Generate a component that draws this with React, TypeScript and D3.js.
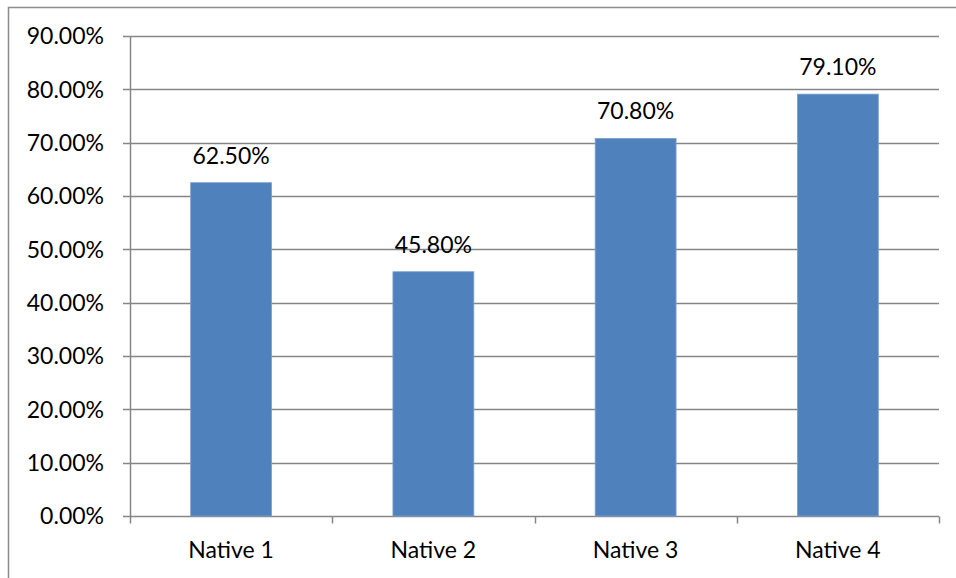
import React, { useEffect, useRef } from 'react';
import * as d3 from 'd3';

const categories = ['Native 1', 'Native 2', 'Native 3', 'Native 4'];
const values = [0.625, 0.458, 0.708, 0.791];
const yTicks = [0, 0.1, 0.2, 0.3, 0.4, 0.5, 0.6, 0.7, 0.8, 0.9];

const App: React.FC = () => {
  const svgRef = useRef<SVGSVGElement>(null);

  useEffect(() => {
    if (!svgRef.current) return;
    const svg = d3.select(svgRef.current);
    svg.selectAll('*').remove();

    const width = 956;
    const height = 578;
    const margin = { top: 36, right: 17, bottom: 62, left: 130 };
    const font = 'Lato, "Open Sans", sans-serif';
    const fontSize = 23;
    const gray = '#868686';

    svg.attr('width', width).attr('height', height);

    // chart frame (only left/top visible)
    svg.append('rect')
      .attr('x', 8.5).attr('y', 7.5)
      .attr('width', width + 10).attr('height', height + 10)
      .attr('fill', '#fff')
      .attr('stroke', '#8c8c8c')
      .attr('stroke-width', 1.5);

    const x = d3.scaleBand<string>()
      .domain(categories)
      .range([margin.left, width - margin.right])
      .padding(0);

    const y = d3.scaleLinear()
      .domain([0, 0.9])
      .range([height - margin.bottom, margin.top]);

    // gridlines
    svg.append('g')
      .selectAll('line')
      .data(yTicks)
      .join('line')
      .attr('x1', margin.left - 7)
      .attr('x2', width - margin.right)
      .attr('y1', d => Math.round(y(d)) + 0.5)
      .attr('y2', d => Math.round(y(d)) + 0.5)
      .attr('stroke', gray)
      .attr('stroke-width', 1.5);

    // y labels
    svg.append('g')
      .selectAll('text')
      .data(yTicks)
      .join('text')
      .attr('x', 104)
      .attr('y', d => y(d))
      .attr('dy', '0.36em')
      .attr('text-anchor', 'end')
      .attr('font-family', font)
      .attr('font-size', fontSize)
      .attr('fill', '#000')
      .text(d => d3.format('.2%')(d));

    // bars
    const barW = x.bandwidth() * 0.4;
    svg.append('g')
      .selectAll('rect')
      .data(values)
      .join('rect')
      .attr('x', (d, i) => x(categories[i])! + (x.bandwidth() - barW) / 2)
      .attr('y', d => y(d))
      .attr('width', barW)
      .attr('height', d => y(0) - y(d))
      .attr('fill', '#4f81bd')
      .attr('stroke', '#7da0cf')
      .attr('stroke-width', 0.8);

    // bar value labels
    svg.append('g')
      .selectAll('text')
      .data(values)
      .join('text')
      .attr('x', (d, i) => x(categories[i])! + x.bandwidth() / 2)
      .attr('y', d => y(d) - 19)
      .attr('text-anchor', 'middle')
      .attr('font-family', font)
      .attr('font-size', fontSize)
      .attr('fill', '#000')
      .text(d => d3.format('.2%')(d));

    // axes lines
    const y0 = Math.round(y(0)) + 0.5;
    svg.append('line')
      .attr('x1', margin.left + 0.5).attr('x2', margin.left + 0.5)
      .attr('y1', margin.top).attr('y2', y0)
      .attr('stroke', gray).attr('stroke-width', 1.5);

    const tickXs = [...categories.map(c => x(c)!), width - margin.right];
    svg.append('g')
      .selectAll('line')
      .data(tickXs)
      .join('line')
      .attr('x1', d => Math.round(d) + 0.5)
      .attr('x2', d => Math.round(d) + 0.5)
      .attr('y1', y0)
      .attr('y2', y0 + 7)
      .attr('stroke', gray)
      .attr('stroke-width', 1.5);

    // x labels
    svg.append('g')
      .selectAll('text')
      .data(categories)
      .join('text')
      .attr('x', d => x(d)! + x.bandwidth() / 2)
      .attr('y', 558)
      .attr('text-anchor', 'middle')
      .attr('font-family', font)
      .attr('font-size', fontSize)
      .attr('fill', '#000')
      .text(d => d);
  }, []);

  return (
    <div style={{ position: 'fixed', left: 0, top: 0, width: 956, height: 578, background: '#fff', overflow: 'hidden' }}>
      <svg ref={svgRef} style={{ display: 'block' }} />
    </div>
  );
};

export default App;
